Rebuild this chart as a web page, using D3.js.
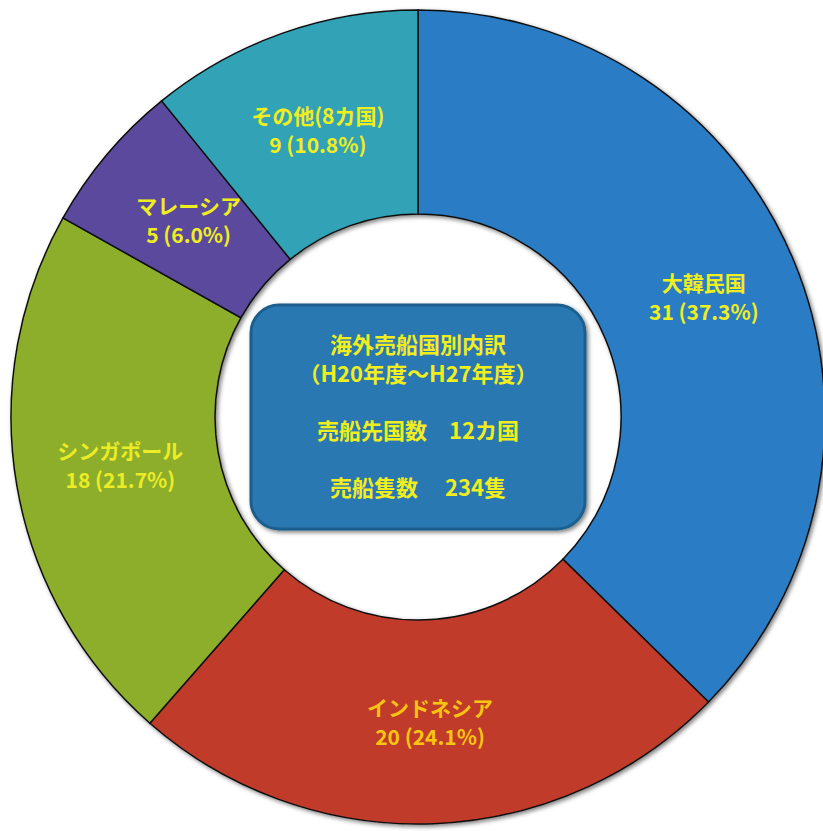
<!DOCTYPE html>
<html>
<head>
<meta charset="utf-8">
<script src="https://cdn.jsdelivr.net/npm/d3@7"></script>
<style>
  body { margin: 0; background: #fff; }
  svg { display: block; }
</style>
</head>
<body>
<svg id="chart"></svg>
<script>
// data
const countries = ['大韓民国', 'インドネシア', 'シンガポール', 'マレーシア', 'その他(8カ国)'];
const ships = [31, 20, 18, 5, 9];
const shares = ['37.3%', '24.1%', '21.7%', '6.0%', '10.8%'];
const sliceColors = ['#2b7cc4', '#c13a2c', '#8cae2a', '#5a4a9c', '#30a3b6'];
const labelColors = ['#f0ee1c', '#f7c411', '#ecec26', '#f0ee1c', '#f0ee1c'];
const centerLines = ['海外売船国別内訳', '（H20年度～H27年度）', '売船先国数　12カ国', '売船隻数　 234隻'];

const width = 823, height = 831;
const cx = 418, cy = 417, outerR = 407, innerR = 203;

const svg = d3.select('#chart').attr('width', width).attr('height', height)
  .style('font-family', '"Noto Sans CJK JP", sans-serif');

const defs = svg.append('defs');
const shadow = defs.append('filter').attr('id', 'sh').attr('x', '-20%').attr('y', '-20%').attr('width', '140%').attr('height', '140%');
shadow.append('feDropShadow').attr('dx', 2).attr('dy', 2).attr('stdDeviation', 2).attr('flood-opacity', 0.5);

const data = countries.map((c, i) => ({ name: c, value: ships[i], share: shares[i], i }));
const pie = d3.pie().value(d => d.value).sort(null);
const arc = d3.arc().innerRadius(innerR).outerRadius(outerR);
const arcs = pie(data);

const g = svg.append('g').attr('transform', `translate(${cx},${cy})`);

g.append('g').attr('filter', 'url(#sh)')
  .selectAll('path').data(arcs).join('path')
  .attr('d', arc)
  .attr('fill', d => sliceColors[d.data.i])
  .attr('stroke', '#111')
  .attr('stroke-width', 1.5);

// label positions: radius along the ring, nudged per slice
const labelR = [310, 318, 302, 300, 300];
const labelNudge = [[0, 3], [0, -10], [0, 0], [0, -1], [0, -1]];
const lbl = g.selectAll('g.lbl').data(arcs).join('g').attr('class', 'lbl')
  .attr('transform', d => {
    const a = (d.startAngle + d.endAngle) / 2;
    const r = labelR[d.data.i];
    const n = labelNudge[d.data.i];
    return `translate(${Math.sin(a) * r + n[0]},${-Math.cos(a) * r + n[1]})`;
  });
lbl.append('text').attr('text-anchor', 'middle').attr('dominant-baseline', 'middle').attr('y', -14.5)
  .attr('font-size', 21).attr('font-weight', 'bold')
  .attr('fill', d => labelColors[d.data.i])
  .text(d => d.data.name);
lbl.append('text').attr('text-anchor', 'middle').attr('dominant-baseline', 'middle').attr('y', 14.5)
  .attr('font-size', 21).attr('font-weight', 'bold')
  .attr('fill', d => labelColors[d.data.i])
  .text(d => `${d.data.value} (${d.data.share})`);

// center box
svg.append('rect')
  .attr('x', 251).attr('y', 305).attr('width', 334).attr('height', 224)
  .attr('rx', 28).attr('ry', 28)
  .attr('fill', '#2a78b2').attr('stroke', '#1d5f8e').attr('stroke-width', 3)
  .attr('filter', 'url(#sh)');

const lineY = [347, 376, 433, 490];
svg.selectAll('text.center').data(centerLines).join('text').attr('class', 'center')
  .attr('x', 418).attr('y', (d, i) => lineY[i])
  .attr('text-anchor', 'middle').attr('dominant-baseline', 'middle')
  .attr('font-size', 22).attr('font-weight', 'bold')
  .attr('fill', '#f0ee1c')
  .attr('xml:space', 'preserve')
  .style('white-space', 'pre')
  .text(d => d);
</script>
</body>
</html>
